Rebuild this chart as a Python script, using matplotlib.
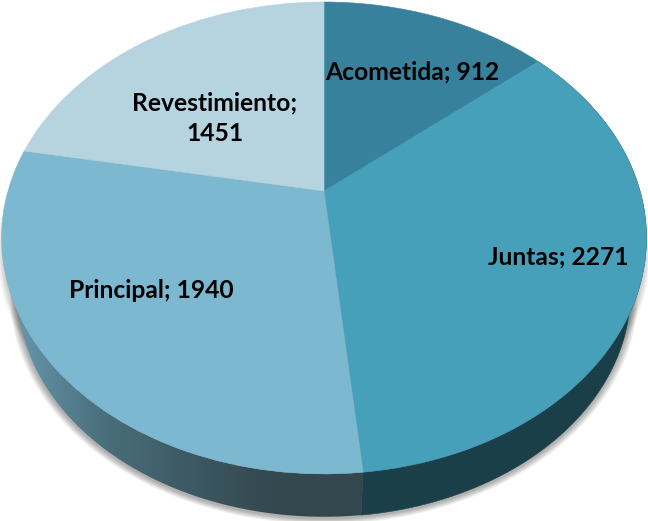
import numpy as np
import matplotlib
matplotlib.use("Agg")
import matplotlib.pyplot as plt
from matplotlib.transforms import Transform
from matplotlib.patches import Polygon

categories = ["Acometida", "Juntas", "Principal", "Revestimiento"]
values = [912, 2271, 1940, 1451]
top_colors = ["#38819c", "#47a0ba", "#7cb8cf", "#b5d4e0"]
side_color_juntas = "#1b3f49"
label_text_xy = [(412, 72), (558, 257), (151, 291), (215, 118)]

W, H = 648, 521
CX, CY, A, B, K = 324.0, 191.0, 316.0, 226.6, 0.199
BASE_CY, BASE_S = 248.0, 0.95


def project(xy):
    xy = np.asarray(xy, dtype=float)
    u, v = xy[..., 0], xy[..., 1]
    w = 1 + K * v
    return np.stack([CX + A * u / w, CY - B * v / w], axis=-1)


class Perspective(Transform):
    input_dims = 2
    output_dims = 2
    is_separable = False
    has_inverse = False

    def transform_non_affine(self, values):
        return project(values)


def to_base(p):
    return np.stack([CX + BASE_S * (p[..., 0] - CX),
                     BASE_CY + BASE_S * (p[..., 1] - CY)], axis=-1)


def rim(a0, a1, n=200):
    t = np.radians(np.linspace(a0, a1, n))
    return project(np.stack([np.sin(t), np.cos(t)], axis=-1))


fig = plt.figure(figsize=(W / 100, H / 100), dpi=100)
ax = fig.add_axes([0, 0, 1, 1])

wedges, _ = ax.pie(values, colors=top_colors, startangle=90, counterclock=False,
                   wedgeprops=dict(linewidth=0.4, zorder=5))
ax.set_aspect("auto")
ax.set_xlim(0, W)
ax.set_ylim(H, 0)
ax.axis("off")

tr = Perspective() + ax.transData
for w, c in zip(wedges, top_colors):
    w.set_transform(tr)
    w.set_edgecolor(c)
    w.set_clip_on(False)

cum = np.cumsum([0] + values) / sum(values) * 360.0

# drop shadow below the body
outer_top = rim(0, 360, 361)
outer_base = to_base(outer_top)
for grow in np.arange(8, 0, -1):
    c0 = np.array([CX, BASE_CY + 30])
    pts = c0 + (outer_base - c0) * (1 + grow / 320.0) + np.array([0, 1.5])
    ax.add_patch(Polygon(pts, closed=True, fc="#000000", ec="none", alpha=0.045, zorder=1))
    c0 = np.array([CX, 238.0])
    pts = c0 + (outer_top - c0) * (1 + (grow - 4) / 320.0) + np.array([0, 12])
    ax.add_patch(Polygon(pts, closed=True, fc="#000000", ec="none", alpha=0.03, zorder=1))

# Juntas side
t = rim(cum[1], cum[2])
ax.add_patch(Polygon(np.vstack([t, to_base(t)[::-1]]), closed=True,
                     fc=side_color_juntas, ec=side_color_juntas, lw=0.4, zorder=3))

# Principal side with gradient
t = rim(cum[2], cum[3])
poly = Polygon(np.vstack([t, to_base(t)[::-1]]), closed=True, fc="none", ec="none",
               zorder=3, transform=ax.transData)
ax.add_patch(poly)
grad = np.linspace(0, 1, 256)[None, :]
cmap = matplotlib.colors.LinearSegmentedColormap.from_list(
    "side", ["#6496aa", "#4a6e7c", "#3d5963", "#33474e", "#33474e"])
im = ax.imshow(grad, extent=[18, 364, H, 290], cmap=cmap, aspect="auto", zorder=3)
im.set_clip_path(poly)
ax.set_xlim(0, W)
ax.set_ylim(H, 0)

# labels
for cat, val, (x, y) in zip(categories, values, label_text_xy):
    sep = ";\n" if cat == "Revestimiento" else "; "
    ax.text(x, y, f"{cat}{sep}{val}", ha="center", va="center", family="Lato",
            weight="bold", fontsize=17.7, color="black", zorder=10, linespacing=1.42)

fig.savefig("out.png", dpi=100)
